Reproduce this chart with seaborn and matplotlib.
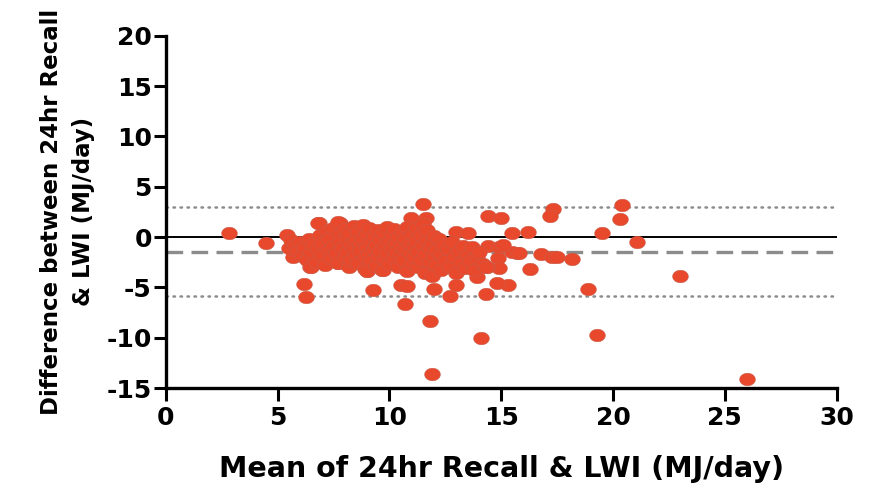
import matplotlib
matplotlib.use("Agg")
import matplotlib.pyplot as plt
import matplotlib.path as mpath
import numpy as np
import pandas as pd
import seaborn as sns

# mean of the two methods (MJ/day)
mean_vals = [
    2.85, 4.5, 5.4, 6.2, 6.25, 9.25, 10.5, 10.8, 10.7, 12.0, 12.7, 14.3, 15.3,
    11.5, 10.95, 11.65, 14.4, 15.0, 13.0, 13.5, 15.5, 16.2, 6.85, 7.8,
    17.3, 17.2, 20.4, 20.3, 19.5, 21.05, 23.0,
    16.8, 17.25, 17.5, 18.15, 15.7, 16.3, 18.9, 19.3, 26.0, 11.9, 11.8, 14.1,
    14.8, 13.9, 13.0, 14.85, 14.9, 14.4, 14.9, 15.5, 15.8, 15.1, 14.35,
    6.45, 6.75, 7.7, 5.7, 5.5, 9.65, 9.0,
    5.6, 5.8, 5.9, 6.0, 6.1, 6.2, 6.3, 6.4, 6.5, 6.5, 6.6,
    6.7, 6.8, 6.8, 6.9, 7.0, 7.0, 7.1, 7.2, 7.3, 7.3, 7.4, 7.5, 7.5,
    7.6, 7.7, 7.7, 7.8, 7.8, 7.9, 8.0, 8.0, 8.1, 8.1, 8.2, 8.2, 8.3, 8.3, 8.4, 8.4, 8.5, 8.5,
    8.6, 8.6, 8.7, 8.7, 8.8, 8.8, 8.9, 8.9, 9.0, 9.0, 9.0, 9.1, 9.1, 9.2, 9.2, 9.3, 9.3, 9.4, 9.4, 9.5, 9.5,
    9.6, 9.6, 9.7, 9.7, 9.8, 9.8, 9.9, 9.9, 10.0, 10.0, 10.1, 10.1, 10.2, 10.2, 10.3, 10.3, 10.4, 10.4, 10.5, 10.5,
    10.6, 10.6, 10.7, 10.7, 10.8, 10.8, 10.9, 10.9, 11.0, 11.0, 11.1, 11.1, 11.2, 11.2, 11.3, 11.3, 11.4, 11.4, 11.5, 11.5,
    11.6, 11.6, 11.7, 11.7, 11.8, 11.8, 11.9, 11.9, 12.0, 12.0, 12.1, 12.1, 12.2, 12.3, 12.3, 12.4, 12.5,
    12.6, 12.7, 12.8, 12.9, 13.0, 13.1, 13.2, 13.3, 13.4, 13.5, 13.6, 13.7, 13.8, 13.9, 14.0, 14.2, 14.3,
]

# difference 24hr recall - LWI (MJ/day)
diff_vals = [
    0.4, -0.6, 0.2, -4.7, -6.0, -5.3, -4.8, -4.9, -6.6, -5.2, -5.9, -5.7, -4.8,
    3.3, 1.9, 1.9, 2.1, 1.9, 0.5, 0.4, 0.4, 0.5, 1.4, 1.4,
    2.8, 2.1, 3.2, 1.8, 0.4, -0.5, -3.9,
    -1.7, -2.0, -2.0, -2.2, -1.6, -3.2, -5.2, -9.7, -14.1, -13.6, -8.3, -10.0,
    -4.6, -4.0, -4.8, -2.1, -3.1, -0.9, -1.0, -1.5, -1.6, -0.8, -3.0,
    -3.0, -2.5, -2.6, -2.0, -1.1, -3.3, -3.4,
    -0.3, -0.8, -1.4, -0.5, -1.9, -1.0, -2.3, -0.2, -1.5, -3.0, -0.7,
    -2.5, 1.4, -1.2, 0.2, -0.6, -1.8, -2.8, 0.6, -1.3, -0.2, -2.1, 0.9, -0.9,
    -1.6, 1.5, -2.6, 0.3, -0.5, -1.1, -2.0, 0.8, -0.1, -1.5, -3.0, 0.4, -0.8, -2.3, 1.1, -1.2, -0.3, -1.8,
    0.6, -2.6, -0.7, -1.4, 1.2, -0.1, -2.0, -3.2, 0.3, -1.0, -3.4, -1.7, 0.9, -0.4, -2.4, -1.2, 0.1, -2.9, -0.8, 0.7, -1.9,
    -0.2, -1.4, -3.3, 0.4, -2.2, -0.9, 1.0, -1.6, -0.4, -2.7, 0.2, -1.1, -2.0, 0.8, -0.6, -1.5, -3.0, 0.0, -1.8, -0.9,
    0.5, -2.3, -1.2, -0.2, -3.4, 1.0, -1.6, -0.7, -2.6, 0.3, -1.0, -2.0, 0.9, -0.4, -1.4, -3.0, 0.2, -2.3, -0.8, 1.3,
    -1.7, -3.6, -0.3, 0.7, -2.5, -1.1, -0.6, -3.9, -1.9, 0.1, -2.8, -1.3, -0.2, -3.3, -1.7, -0.8, -2.4,
    -1.2, -3.0, -0.5, -2.0, -3.6, -1.4, -2.6, -0.9, -3.1, -1.8, -2.4, -1.0, -3.3, -2.0, -1.5, -2.7, -3.0,
]

bias = -1.45
loa_upper = 2.95
loa_lower = -5.85

df = pd.DataFrame({"mean": mean_vals, "diff": diff_vals})

sns.set_style("ticks", {"axes.edgecolor": "black", "text.color": "black",
                        "xtick.color": "black", "ytick.color": "black",
                        "axes.labelcolor": "black"})
plt.rcParams["font.family"] = ["DejaVu Sans"]
plt.rcParams["font.weight"] = "bold"
plt.rcParams["axes.unicode_minus"] = False

# slightly wide ellipse marker like the original
t = np.linspace(0, 2 * np.pi, 40)
ellipse = mpath.Path(np.column_stack([np.cos(t), 0.8 * np.sin(t)]), closed=True)

fig = plt.figure(figsize=(8.77, 4.9), dpi=100)
ax = fig.add_axes([0.189, 0.208, 0.765, 0.719])

ax.axhline(0, color="black", lw=1.4, zorder=1)
ax.axhline(bias, color="#8c8c8c", lw=2.4, ls=(0, (5, 2.5)), zorder=1)
ax.axhline(loa_upper, color="#8c8c8c", lw=1.8, ls=(0, (0.6, 2.2)), dash_capstyle="round", zorder=1)
ax.axhline(loa_lower, color="#8c8c8c", lw=1.8, ls=(0, (0.6, 2.2)), dash_capstyle="round", zorder=1)

sns.scatterplot(data=df, x="mean", y="diff", ax=ax, marker=ellipse, s=130,
                color="#e8492c", edgecolor="#c06050", linewidth=0.3, zorder=3)

ax.set_xlim(0, 30)
ax.set_ylim(-15, 20)
ax.set_xticks([0, 5, 10, 15, 20, 25, 30])
ax.set_yticks([-15, -10, -5, 0, 5, 10, 15, 20])
sns.despine(ax=ax)
for s in ["left", "bottom"]:
    ax.spines[s].set_linewidth(2.4)
ax.tick_params(width=2.2, length=9, labelsize=18, pad=1, colors="black")
ax.tick_params(axis="x", pad=4)
for lab in ax.get_xticklabels() + ax.get_yticklabels():
    lab.set_fontweight("bold")

ax.set_xlabel("Mean of 24hr Recall & LWI (MJ/day)", fontsize=20.5, fontweight="bold", labelpad=18)
ax.set_ylabel("Difference between 24hr Recall\n& LWI (MJ/day)", fontsize=16.5, fontweight="bold",
              labelpad=8, linespacing=1.5)

fig.savefig("out.png", dpi=100)
